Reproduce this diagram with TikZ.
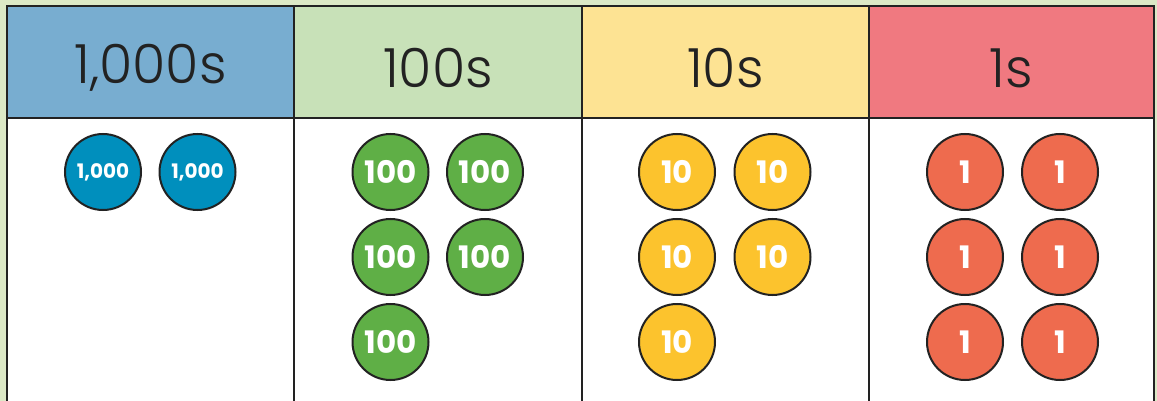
\documentclass[tikz,border=0pt]{standalone}
\usepackage{fontspec}
\setmainfont{Poppins}
\newfontfamily\headfont{Poppins Light}
\newfontfamily\coinfont{Poppins Bold}
\definecolor{bgc}{HTML}{DCE9C6}
\definecolor{hblue}{HTML}{78ADD0}
\definecolor{hgreen}{HTML}{C8E1B8}
\definecolor{hyellow}{HTML}{FDE393}
\definecolor{hred}{HTML}{F07980}
\definecolor{cblue}{HTML}{008FBD}
\definecolor{cgreen}{HTML}{5FAF46}
\definecolor{cyellow}{HTML}{FCC32D}
\definecolor{cred}{HTML}{EE6B4E}
\definecolor{ink}{HTML}{222222}
\tikzset{
  x=1pt,y=-1pt,
  grid/.style={draw=ink,line width=2.8pt},
  head/.style={anchor=center,inner sep=0pt,font=\headfont\fontsize{54}{54}\selectfont,text=ink},
  coin/.style={circle,minimum size=76pt,inner sep=0pt,draw=ink,line width=2pt,text=white,font=\coinfont\fontsize{31}{31}\selectfont},
  bigcoin/.style={coin,font=\coinfont\fontsize{20}{20}\selectfont},
}
\begin{document}
\begin{tikzpicture}
\useasboundingbox (0,0) rectangle (1157,401);
\fill[bgc] (0,0) rectangle (1157,401);
\fill[white] (7,6) rectangle (1154,401);
\fill[hblue] (7,6) rectangle (294,118);
\fill[hgreen] (294,6) rectangle (582,118);
\fill[hyellow] (582,6) rectangle (869,118);
\fill[hred] (869,6) rectangle (1154,118);
\draw[grid] (7,405) -- (7,6) -- (1154,6) -- (1154,405);
\draw[grid] (7,118) -- (1154,118);
\draw[grid] (294,6) -- (294,405);
\draw[grid] (582,6) -- (582,405);
\draw[grid] (869,6) -- (869,405);
\node[head] (h1) at (150.5,68) {1,000s};
\node[head] (h2) at (438,68) {100s};
\node[head] (h3) at (725.5,68) {10s};
\node[head] (h4) at (1011.5,68) {1s};
% thousands
\node[bigcoin,fill=cblue] (t1) at (103,172) {1,000};
\node[bigcoin,fill=cblue] (t2) at (197.5,172) {1,000};
% hundreds
\node[coin,fill=cgreen] (c1) at (390.5,172) {100};
\node[coin,fill=cgreen] (c2) at (485,172) {100};
\node[coin,fill=cgreen] (c3) at (390.5,257) {100};
\node[coin,fill=cgreen] (c4) at (485,257) {100};
\node[coin,fill=cgreen] (c5) at (390.5,342) {100};
% tens
\node[coin,fill=cyellow] (d1) at (677,172) {10};
\node[coin,fill=cyellow] (d2) at (772.5,172) {10};
\node[coin,fill=cyellow] (d3) at (677,257) {10};
\node[coin,fill=cyellow] (d4) at (772.5,257) {10};
\node[coin,fill=cyellow] (d5) at (677,342) {10};
% ones
\node[coin,fill=cred] (u1) at (965,172) {1};
\node[coin,fill=cred] (u2) at (1060,172) {1};
\node[coin,fill=cred] (u3) at (965,257) {1};
\node[coin,fill=cred] (u4) at (1060,257) {1};
\node[coin,fill=cred] (u5) at (965,342) {1};
\node[coin,fill=cred] (u6) at (1060,342) {1};
\end{tikzpicture}
\end{document}
